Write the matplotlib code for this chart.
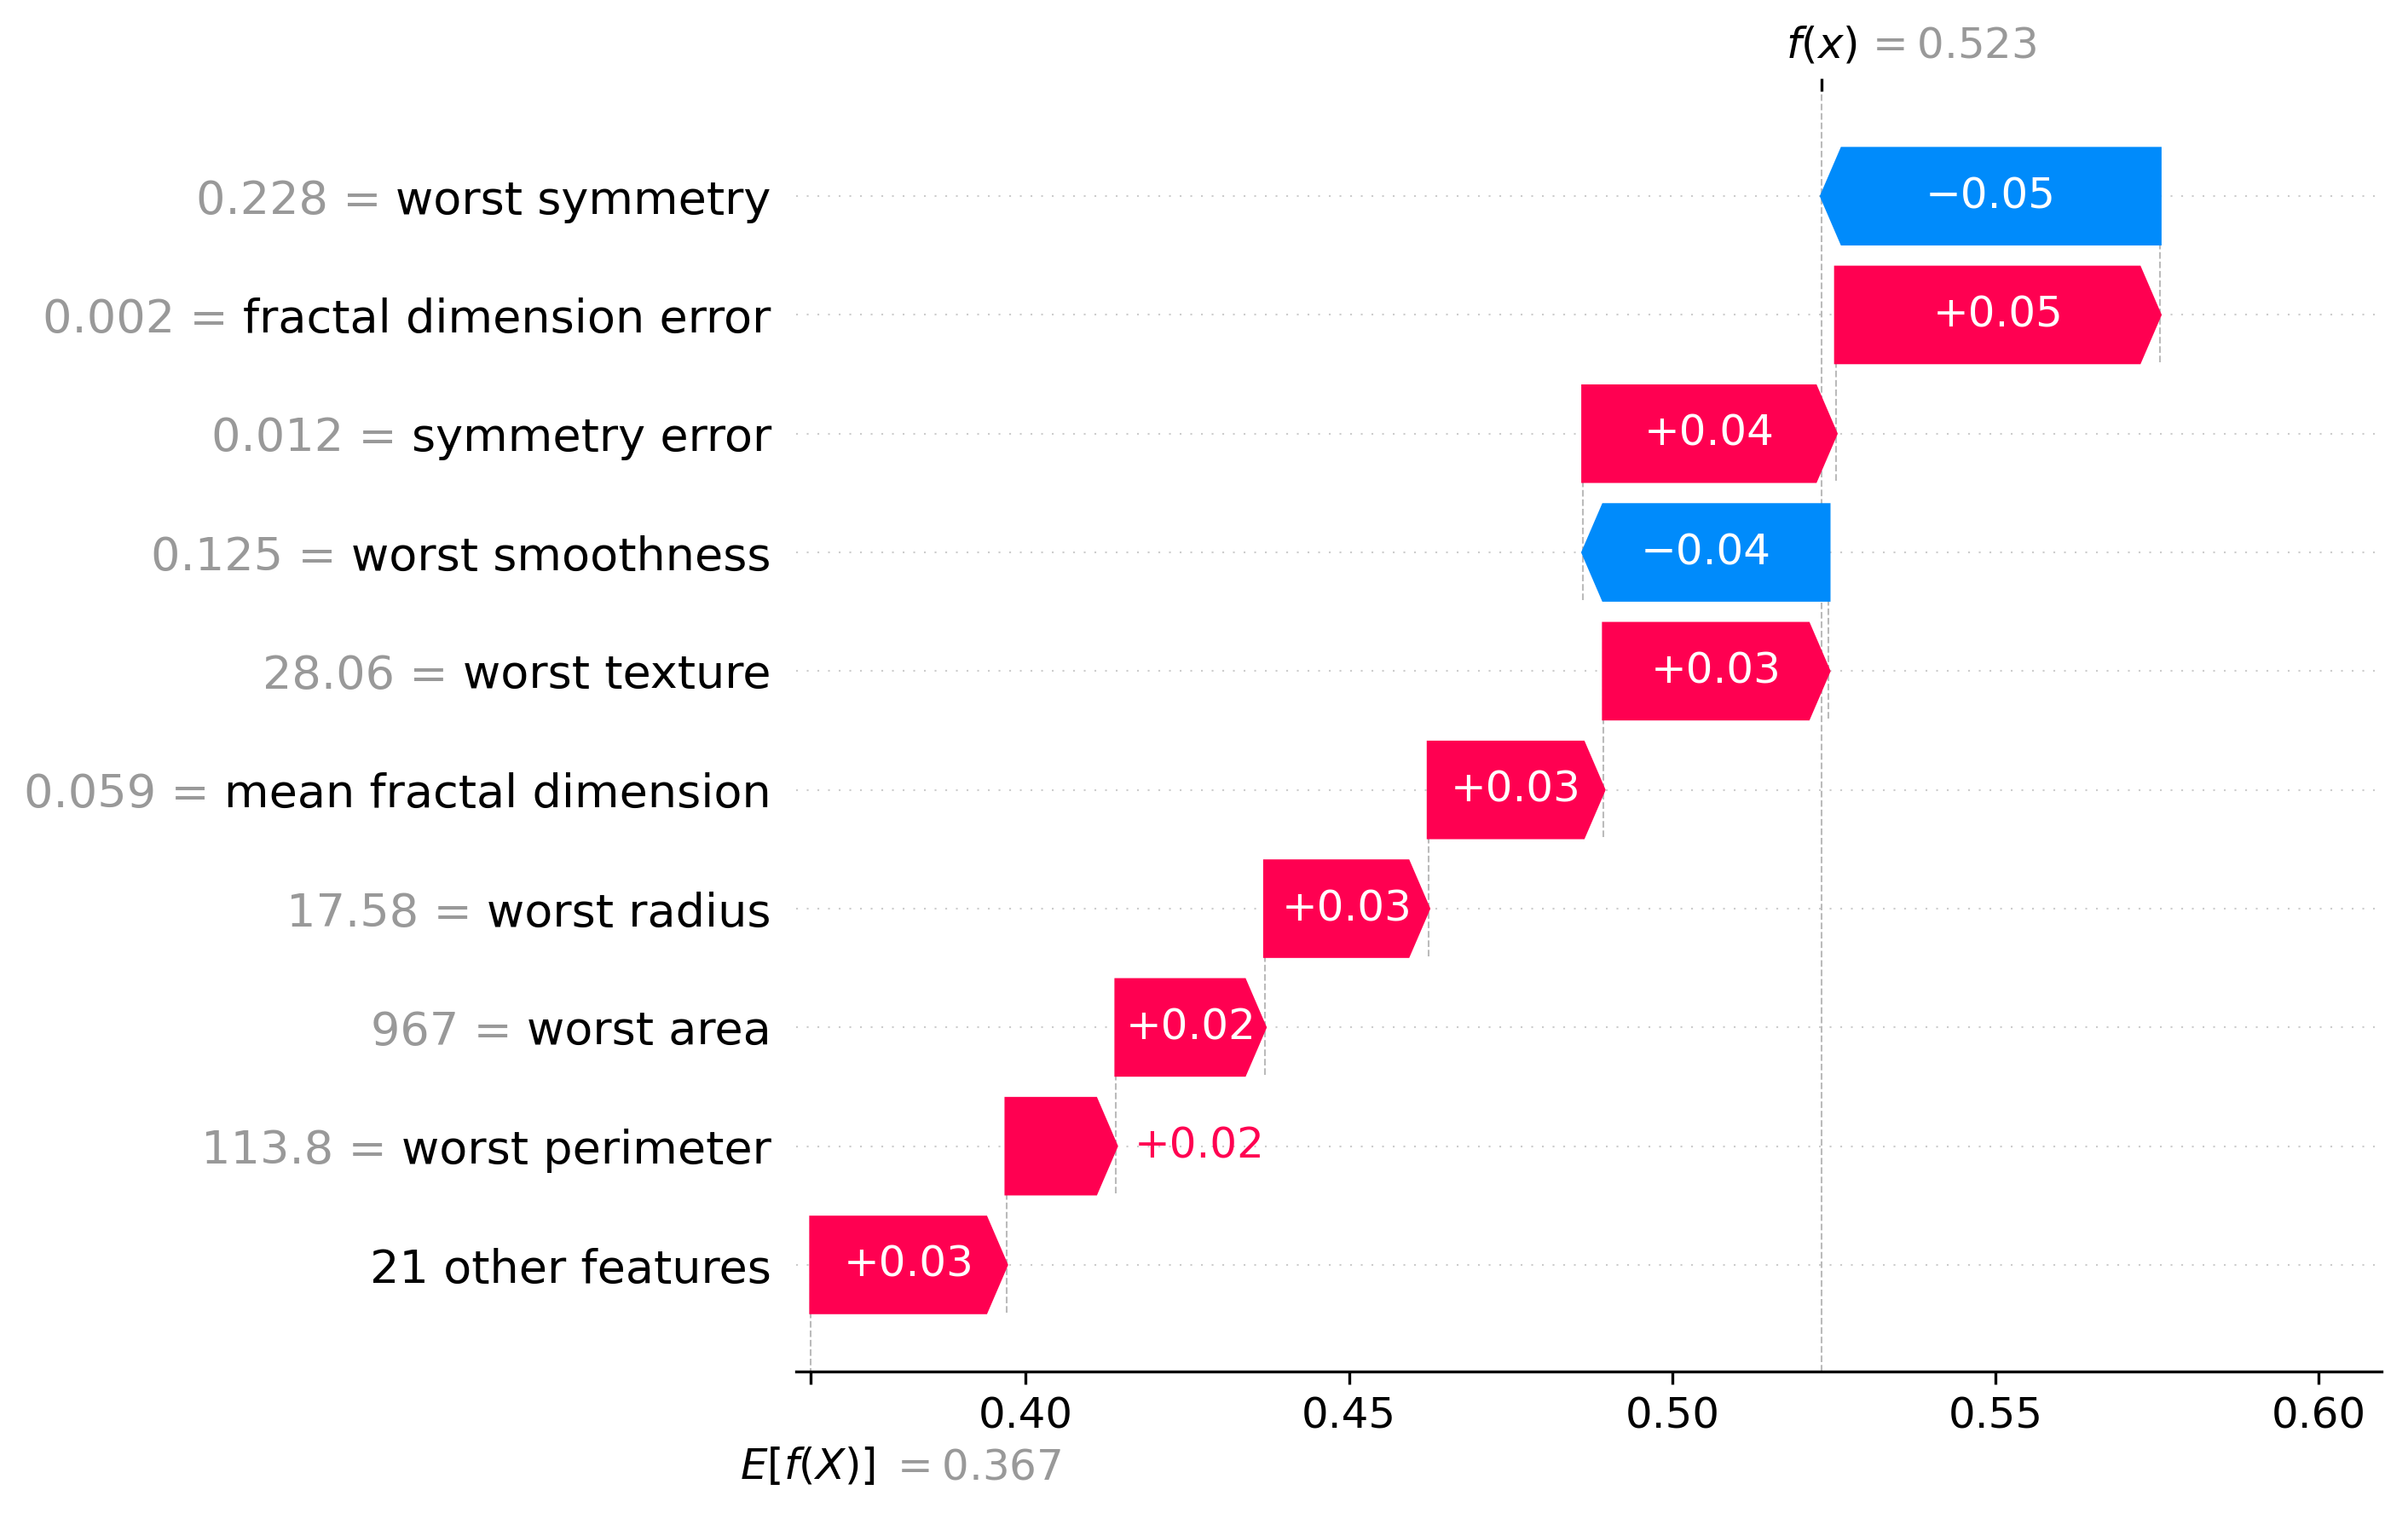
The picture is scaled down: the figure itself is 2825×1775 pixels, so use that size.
import numpy as np
import matplotlib
matplotlib.use("Agg")
import matplotlib.pyplot as plt
from matplotlib.transforms import blended_transform_factory

# ---------------- data ----------------
feature_names = ["worst symmetry", "fractal dimension error", "symmetry error",
                 "worst smoothness", "worst texture", "mean fractal dimension",
                 "worst radius", "worst area", "worst perimeter"]
feature_values = ["0.228", "0.002", "0.012", "0.125", "28.06", "0.059",
                  "17.58", "967", "113.8"]
shap_values = [-0.0523, 0.0501, 0.0391, -0.0380, 0.0348, 0.0271,
               0.0253, 0.0230, 0.0170]
other_label = "21 other features"
other_value = 0.0302
base_value = 0.3668
xtick_values = [0.40, 0.45, 0.50, 0.55, 0.60]
xtick_labels = ["0.40", "0.45", "0.50", "0.55", "0.60"]

RED = "#ff0051"
BLUE = "#008bfb"
GRAY = "#999999"

# ---------------- figure ----------------
W, H, DPI = 2825, 1775, 300
fig = plt.figure(figsize=(W / DPI, H / DPI), dpi=DPI)
ax_left, ax_right, ax_bottom, ax_top = 934, 2794, 1608.5, 107
ax = fig.add_axes([ax_left / W, (H - ax_bottom) / H,
                   (ax_right - ax_left) / W, (ax_bottom - ax_top) / H])
xmin, xmax = 0.3645, 0.6097
ax.set_xlim(xmin, xmax)
ax.set_ylim(-0.894, 9.884)

n = len(feature_names) + 1
all_vals = shap_values + [other_value]
all_ys = list(range(n - 1, -1, -1))
fx = base_value + sum(all_vals)

# starting points of each bar (walking down from f(x))
loc = fx
starts = []
for v in all_vals:
    loc -= v
    starts.append(loc)

# horizontal dotted grid lines
for y in all_ys:
    ax.axhline(y, color="#cccccc", lw=0.5, dashes=(1, 5), zorder=-1)

# connecting dashed lines
for v, y, s in zip(all_vals, all_ys, starts):
    ax.plot([s, s], [y - 1 - 0.4, y + 0.4], color="#bbbbbb", linestyle="--",
            linewidth=0.5, zorder=-1)
ax.axvline(fx, 0, 1, color="#bbbbbb", linestyle="--", linewidth=0.5, zorder=-1)

# arrows
axes_width_in = (ax_right - ax_left) / DPI
xscale = (xmax - xmin) / axes_width_in
hl = 0.08 * xscale
renderer = fig.canvas.get_renderer()


def fmt(v):
    return ("%+0.02f" % v).replace("-", "\u2212")


for v, y, s in zip(all_vals, all_ys, starts):
    c = RED if v >= 0 else BLUE
    d = abs(v)
    sign = 1 if v >= 0 else -1
    arr = ax.arrow(s, y, sign * max(d - hl, 1e-6), 0, head_length=min(d, hl),
                   color=c, width=0.8, head_width=0.8)
    txt = ax.text(s + 0.5 * v, y, fmt(v), ha="center", va="center",
                  color="white", fontsize=12)
    tb = txt.get_window_extent(renderer=renderer)
    ab = arr.get_window_extent(renderer=renderer)
    if tb.width > ab.width:
        txt.remove()
        off = (5 / 72) * xscale
        if v >= 0:
            ax.text(s + v + off, y, fmt(v), ha="left", va="center",
                    color=RED, fontsize=12)
        else:
            ax.text(s + v - off, y, fmt(v), ha="right", va="center",
                    color=BLUE, fontsize=12)

# y tick labels: black feature names as tick labels
names_all = feature_names + [other_label]
ax.set_yticks(all_ys)
ax.set_yticklabels(names_all, fontsize=13)
ax.tick_params(axis="y", left=False)

# x ticks
ax.set_xticks(xtick_values)
ax.set_xticklabels(xtick_labels, fontsize=12)
ax.set_xticks([base_value], minor=True)
ax.tick_params(axis="x", which="minor", length=3.5, width=0.8)
for sp in ["top", "right", "left"]:
    ax.spines[sp].set_visible(False)

# gray "value =" prefixes, placed where they would sit in the full label
fig.canvas.draw()
renderer = fig.canvas.get_renderer()
label_right_px = None
for t in ax.yaxis.get_majorticklabels():
    if t.get_text():
        label_right_px = t.get_window_extent(renderer=renderer).x1
        break
ytrans = blended_transform_factory(ax.transAxes, ax.transData)
ax_left_px = ax.transAxes.transform((0, 0))[0]
for val, nm, y in zip(feature_values, feature_names, all_ys):
    full = f"{val} = {nm}"
    tmp = ax.text(0, 0, full, fontsize=13)
    w_full = tmp.get_window_extent(renderer=renderer).width
    tmp.remove()
    x_left_px = label_right_px - w_full
    off_pt = (x_left_px - ax_left_px) * 72 / DPI
    ax.annotate(f"{val} =", xy=(0, y), xycoords=ytrans, xytext=(off_pt, 0),
                textcoords="offset points", ha="left", va="center_baseline",
                fontsize=13, color=GRAY, annotation_clip=False)

# top f(x) tick
ax3 = ax.twiny()
ax3.set_xlim(xmin, xmax)
ax3.set_xticks([fx])
ax3.set_xticklabels([""])
for sp in ax3.spines.values():
    sp.set_visible(False)

# E[f(X)] and f(x) labels
trans = blended_transform_factory(ax.transData, ax.transAxes)
ax.annotate("$E[f(X)]$", xy=(base_value, 0), xycoords=trans, xytext=(-20, -30.4),
            textcoords="offset points", ha="left", va="baseline", fontsize=12,
            color="black", annotation_clip=False)
ax.annotate("$ = %0.03f$" % base_value, xy=(base_value, 0), xycoords=trans,
            xytext=(22, -30.6), textcoords="offset points", ha="left",
            va="baseline", fontsize=12, color=GRAY, annotation_clip=False)
ax.annotate("$f(x)$", xy=(fx, 1), xycoords=trans, xytext=(-10, 9.4),
            textcoords="offset points", ha="left", va="baseline", fontsize=12,
            color="black", annotation_clip=False)
ax.annotate("$ = %0.03f$" % fx, xy=(fx, 1), xycoords=trans, xytext=(12, 9.4),
            textcoords="offset points", ha="left", va="baseline", fontsize=12,
            color=GRAY, annotation_clip=False)

fig.savefig("out.png", dpi=DPI)
